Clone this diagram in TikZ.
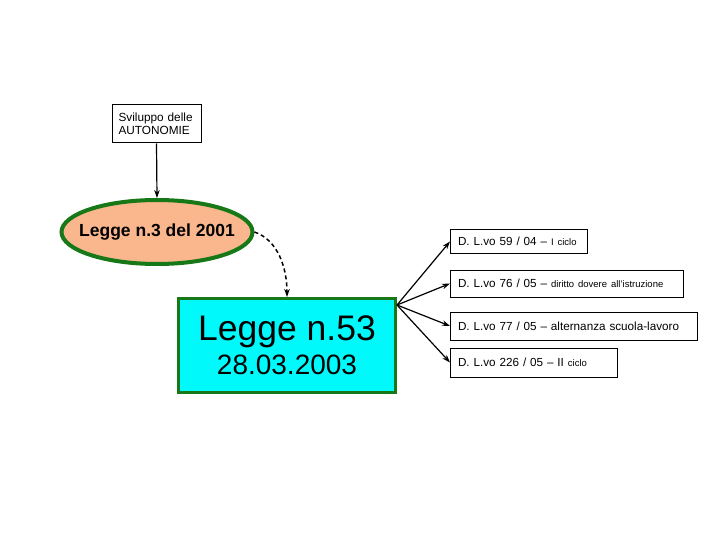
\documentclass[tikz,border=0pt]{standalone}
\usepackage{fontspec}
\setmainfont{Liberation Sans}
\usetikzlibrary{shapes.geometric,arrows.meta}
\definecolor{peach}{RGB}{250,182,140}
\definecolor{dgreen}{RGB}{22,120,22}
\definecolor{cyanfill}{RGB}{0,250,252}
\newcommand{\fsz}[2]{\fontsize{#1}{#2}\selectfont}
\tikzset{
  plainbox/.style={draw=black, line width=1pt, rectangle, inner sep=0pt},
  dbox/.style={plainbox, anchor=west, inner xsep=7.5pt, align=left, font=\fsz{11.7}{14}},
  conn/.style={line width=1.2pt, -{Stealth[length=8pt,width=5.5pt]}}
}
\begin{document}
\begin{tikzpicture}[x=1pt,y=-1pt]
\useasboundingbox[fill=white] (0,0) rectangle (720,540);
\node[plainbox, minimum width=89pt, minimum height=38pt, text width=76pt, align=left, font=\fsz{11.8}{13.5}] (svil) at (156.5,124) {Sviluppo delle\\AUTONOMIE};
\node[ellipse, draw=dgreen, fill=peach, line width=4pt, minimum width=191pt, minimum height=64pt, inner sep=0pt, font=\bfseries\fsz{17.5}{20}] (legge3) at (157,232) {\makebox[0pt]{Legge n.3 del 2001}};
\node[rectangle, draw=dgreen, fill=cyanfill, line width=3pt, minimum width=217pt, minimum height=94pt, inner sep=0pt, align=center] (legge53) at (287,345.5) {\fsz{35.5}{38}Legge n.53\\[6pt]\fsz{28}{30}28.03.2003};
\node[dbox, minimum height=23pt, text width=122pt] (d1) at (450,241.5) {D. L.vo 59 / 04 -- {\fsz{9.5}{11}I ciclo}};
\node[dbox, minimum height=27pt, text width=218pt] (d2) at (450,283.5) {D. L.vo 76 / 05 -- {\fsz{9.5}{11}diritto dovere all'istruzione}};
\node[dbox, minimum height=28pt, text width=232pt] (d3) at (450,326) {D. L.vo 77 / 05 -- alternanza scuola-lavoro};
\node[dbox, minimum height=29pt, text width=152pt] (d4) at (450,362.5) {D. L.vo 226 / 05 -- II {\fsz{9.5}{11}ciclo}};
\draw[conn] (svil.south) -- (legge3.north);
\draw[line width=1.5pt, dash pattern=on 4pt off 3pt, -{Stealth[length=8pt,width=5.5pt]}] (legge3.east) .. controls (278,240) and (287,268) .. (legge53.north);
\coordinate (src) at ([yshift=-8pt]legge53.north east);
\draw[conn] (src) -- (d1.west);
\draw[conn] (src) -- (d2.west);
\draw[conn] (src) -- (d3.west);
\draw[conn] (src) -- (d4.west);
\end{tikzpicture}
\end{document}
